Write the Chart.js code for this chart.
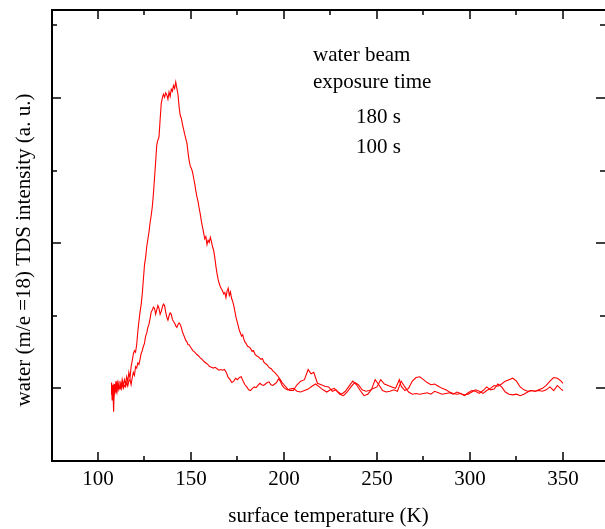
<!DOCTYPE html>
<html>
<head>
<meta charset="utf-8">
<script src="https://cdn.jsdelivr.net/npm/chart.js@4/dist/chart.umd.min.js"></script>
<style>
  body { margin: 0; background: #fff; }
  #wrap { width: 605px; height: 529px; }
</style>
</head>
<body>
<div id="wrap"><canvas id="tds-chart" width="605" height="529"></canvas></div>
<script>
// 180 s exposure
const tempA = [
  107.0,107.3,107.6,108.0,108.4,108.8,109.3,109.8,110.3,110.8,111.3,111.8,112.4,113.0,113.6,114.2,114.8,115.4,116.0,116.6,
  117.2,117.8,118.4,119.0,119.6,120.2,120.8,121.4,122.0,122.6,123.2,123.8,124.4,125.0,125.6,126.2,126.8,127.4,128.0,128.6,
  129.2,129.8,130.4,131.0,131.6,132.2,132.8,133.4,134.0,134.6,135.2,135.8,136.4,137.0,137.6,138.2,138.8,139.4,140.0,140.6,
  141.2,141.8,142.4,143.0,143.6,144.2,144.8,145.4,146.0,146.6,147.2,147.8,148.4,149.0,149.6,150.2,150.8,151.4,152.0,152.6,
  153.2,153.8,154.4,155.0,155.6,156.2,156.8,157.4,158.0,158.6,159.2,159.8,160.4,161.0,161.6,162.2,162.8,163.4,164.0,164.6,
  165.2,165.8,166.4,167.0,167.6,168.2,168.8,169.4,170.0,170.6,171.2,171.8,172.4,173.0,173.6,174.2,174.8,175.4,176.0,176.6,
  177.2,177.8,178.4,179.0,179.6,180.4,181.2,182.0,182.8,183.6,184.4,185.2,186.0,186.8,187.6,188.4,189.2,190.0,190.8,191.6,
  192.4,193.2,194.0,195.0,196.0,197.0,198.0,199.0,200.0,201.0,202.0,203.0,
  205,207,209,211,213,214.5,216,218,220,222,224,226,228,230,232,234,236,238,240,242,
  244,246,248,250,252,254,256,258,260,262,263,265,267,269,271,273,275,277,279,281,
  283,285,287,289,291,293,295,297,299,301,303,305,307,309,311,313,315,317,319,321,
  323,325,327,329,331,333,335,337,339,341,343,345,347,349,350
];
const signalA = [
  0.92,1.08,0.84,1.05,0.68,1.06,0.94,1.10,0.97,1.08,1.00,1.10,1.01,1.12,1.03,1.12,1.06,1.16,1.09,1.22,
  1.14,1.30,1.38,1.47,1.52,1.50,1.60,1.78,1.92,2.05,2.15,2.30,2.50,2.70,2.80,2.95,3.05,3.15,3.28,3.38,
  3.50,3.68,3.90,4.12,4.35,4.42,4.46,4.70,4.92,5.00,5.05,5.01,5.07,5.04,4.98,5.08,5.02,5.12,5.09,5.17,
  5.13,5.22,5.13,5.05,4.88,4.76,4.72,4.64,4.57,4.50,4.44,4.38,4.25,4.14,4.06,4.03,3.98,3.90,3.82,3.72,
  3.64,3.57,3.48,3.40,3.30,3.22,3.14,3.06,3.09,2.98,3.04,3.01,3.08,3.02,2.95,2.90,2.80,2.68,2.58,2.50,
  2.44,2.40,2.37,2.34,2.30,2.32,2.25,2.34,2.38,2.28,2.33,2.24,2.20,2.14,2.06,1.98,1.92,1.86,1.80,1.76,
  1.72,1.74,1.68,1.64,1.62,1.58,1.57,1.55,1.51,1.52,1.47,1.45,1.44,1.42,1.40,1.41,1.36,1.34,1.33,1.30,
  1.28,1.27,1.24,1.22,1.19,1.16,1.12,1.08,1.05,1.02,0.99,0.97,
  0.97,1.05,1.10,1.12,1.26,1.20,1.22,1.07,1.05,1.03,1.02,0.96,0.98,0.92,0.90,0.95,1.02,1.08,1.05,0.98,
  0.96,0.97,1.00,1.02,1.12,1.06,1.04,1.02,1.00,1.12,1.03,0.97,1.00,1.10,1.15,1.16,1.12,1.08,1.05,1.06,
  1.03,1.00,0.98,0.95,0.93,0.92,0.93,0.91,0.92,0.95,0.98,0.96,0.93,0.97,1.00,1.04,1.03,1.06,1.10,1.12,
  1.14,1.10,1.02,0.98,0.96,0.97,0.96,0.98,1.00,1.04,1.10,1.15,1.14,1.10,1.07
];

// 100 s exposure
const tempB = [
  107.2,107.6,108.0,108.5,109.0,109.5,110.0,110.6,111.2,111.8,112.4,113.0,113.6,114.2,114.8,115.4,116.0,116.6,117.2,117.8,
  118.4,119.0,119.6,120.2,120.8,121.4,122.0,122.6,123.2,123.8,124.4,125.0,125.6,126.2,126.8,127.4,128.0,128.6,129.2,129.8,
  130.4,131.0,131.6,132.2,132.8,133.4,134.0,134.6,135.2,135.8,136.4,137.0,137.6,138.2,138.8,139.4,140.0,140.6,141.2,141.8,
  142.4,143.0,143.6,144.2,144.8,145.4,146.0,146.6,147.2,147.8,148.4,149,150,151,152,153,154,155,156,157,
  158,159,160,161,162,163,164,165,166,167,168,169,170,171,172,173,174,175,176,177,
  178,179,180,181,182,183,184,185,186,187,188,189,190,191,192,193,194,195,196,197,
  198,199,200,201,202,203,
  205,207,209,211,213,215,217,219,221,223,225,227,229,231,233,235,237,239,241,243,
  245,247,249,251,253,255,257,259,261,263,265,267,269,271,273,275,277,279,281,283,
  285,287,289,291,293,295,297,299,301,303,305,307,309,311,313,315,317,319,321,323,
  325,327,329,331,333,335,337,339,341,343,345,347,349,350
];
const signalB = [
  0.95,1.04,0.88,1.02,0.93,1.05,0.96,1.07,0.98,1.03,0.99,1.06,1.00,1.04,1.02,1.08,1.03,1.10,1.12,1.05,
  1.15,1.22,1.18,1.30,1.28,1.35,1.33,1.40,1.48,1.52,1.58,1.62,1.72,1.76,1.84,1.88,1.96,2.05,2.08,2.12,
  2.10,2.02,2.08,2.14,2.10,2.02,2.06,2.12,2.16,2.14,2.05,1.98,1.94,2.00,2.04,2.02,1.95,1.92,1.90,1.86,
  1.84,1.88,1.90,1.88,1.84,1.78,1.74,1.70,1.66,1.64,1.60,1.60,1.56,1.52,1.50,1.47,1.45,1.42,1.40,1.37,
  1.35,1.33,1.30,1.29,1.28,1.29,1.27,1.25,1.26,1.25,1.26,1.22,1.15,1.12,1.08,1.10,1.14,1.12,1.15,1.16,
  1.10,1.05,1.02,0.98,0.97,1.00,1.02,1.01,1.04,1.07,1.05,1.04,1.06,1.08,1.09,1.05,1.04,1.06,1.08,1.13,
  1.10,1.04,1.01,0.99,0.98,0.99,
  1.00,0.96,0.95,0.97,0.99,1.03,1.06,1.02,0.98,0.95,0.98,1.00,0.95,0.92,0.96,1.03,1.10,1.05,0.97,0.90,
  0.92,0.98,1.12,1.05,0.97,0.95,0.96,0.98,0.96,1.10,1.02,0.95,0.92,0.93,0.92,0.93,0.94,0.92,0.96,0.94,
  0.92,0.93,0.94,0.92,0.95,0.93,0.90,0.94,0.97,0.96,0.93,0.97,1.02,0.98,0.99,1.06,1.02,0.95,0.92,0.91,
  0.92,0.90,0.92,0.95,0.97,0.96,0.97,0.96,0.98,1.02,0.97,1.04,0.99,0.97
];

const xTicks = [100, 150, 200, 250, 300, 350];
const xMinorTicks = [125, 175, 225, 275, 325];
const yMajorTicks = [1, 3, 5];
const yMinorTicks = [2, 4, 6];
const notes = ['water beam', 'exposure time', '180 s', '100 s'];

const serif = '"Liberation Serif", "Times New Roman", serif';

// frame (right side is cut off in the original), inward ticks, notes and y title
const framePlugin = {
  id: 'frame',
  afterDraw(chart) {
    const {ctx, chartArea: a, scales: {x, y}} = chart;
    ctx.save();
    ctx.strokeStyle = '#000';
    ctx.lineWidth = 2;
    ctx.beginPath();
    ctx.moveTo(a.right + 2, a.top);
    ctx.lineTo(a.left, a.top);
    ctx.lineTo(a.left, a.bottom);
    ctx.lineTo(a.right + 2, a.bottom);
    ctx.stroke();

    ctx.lineWidth = 1.5;
    const tick = (x1, y1, x2, y2) => {
      ctx.beginPath(); ctx.moveTo(x1, y1); ctx.lineTo(x2, y2); ctx.stroke();
    };
    xTicks.concat(xMinorTicks).forEach(v => {
      const px = Math.round(x.getPixelForValue(v));
      const len = xTicks.includes(v) ? 9 : 5;
      tick(px, a.bottom, px, a.bottom - len);
      tick(px, a.top, px, a.top + len);
    });
    yMajorTicks.concat(yMinorTicks).forEach(v => {
      const py = Math.round(y.getPixelForValue(v));
      const len = yMajorTicks.includes(v) ? 9 : 5;
      tick(a.left, py, a.left + len, py);
      tick(a.right, py, a.right - len, py);
    });

    ctx.fillStyle = '#000';
    ctx.font = '21px ' + serif;
    ctx.textBaseline = 'middle';
    ctx.textAlign = 'left';
    ctx.fillText(notes[0], 313, 55);
    ctx.fillText(notes[1], 313, 82);
    ctx.fillText(notes[2], 356, 117);
    ctx.fillText(notes[3], 356, 147);

    ctx.translate(24, 250);
    ctx.rotate(-Math.PI / 2);
    ctx.textAlign = 'center';
    ctx.fillText('water (m/e =18) TDS intensity (a. u.)', 0, 0);
    ctx.restore();
  }
};

const toPoints = (xs, ys) => xs.map((t, i) => ({x: t, y: ys[i]}));

new Chart(document.getElementById('tds-chart'), {
  type: 'line',
  data: {
    datasets: [
      {label: '180 s', data: toPoints(tempA, signalA), borderColor: '#ff0000', borderWidth: 1.1, pointRadius: 0, tension: 0},
      {label: '100 s', data: toPoints(tempB, signalB), borderColor: '#ff0000', borderWidth: 1.1, pointRadius: 0, tension: 0}
    ]
  },
  options: {
    responsive: false,
    animation: false,
    events: [],
    layout: {padding: {top: 10, right: 0, bottom: 0, left: 0}},
    plugins: {legend: {display: false}, tooltip: {enabled: false}},
    scales: {
      x: {
        type: 'linear',
        min: 75.27,
        max: 372.6,
        afterFit: s => { s.height = 68; },
        afterBuildTicks: s => { s.ticks = xTicks.map(v => ({value: v})); },
        grid: {display: false, drawTicks: false},
        border: {display: false},
        ticks: {color: '#000', font: {family: serif, size: 21}, padding: 6, maxRotation: 0},
        title: {display: true, text: 'surface temperature (K)', color: '#000', font: {family: serif, size: 21}, padding: {top: 0, bottom: 0}}
      },
      y: {
        min: 0,
        max: 6.21,
        afterFit: s => { s.width = 52; },
        grid: {display: false, drawTicks: false},
        border: {display: false},
        ticks: {display: false}
      }
    }
  },
  plugins: [framePlugin]
});
</script>
</body>
</html>
